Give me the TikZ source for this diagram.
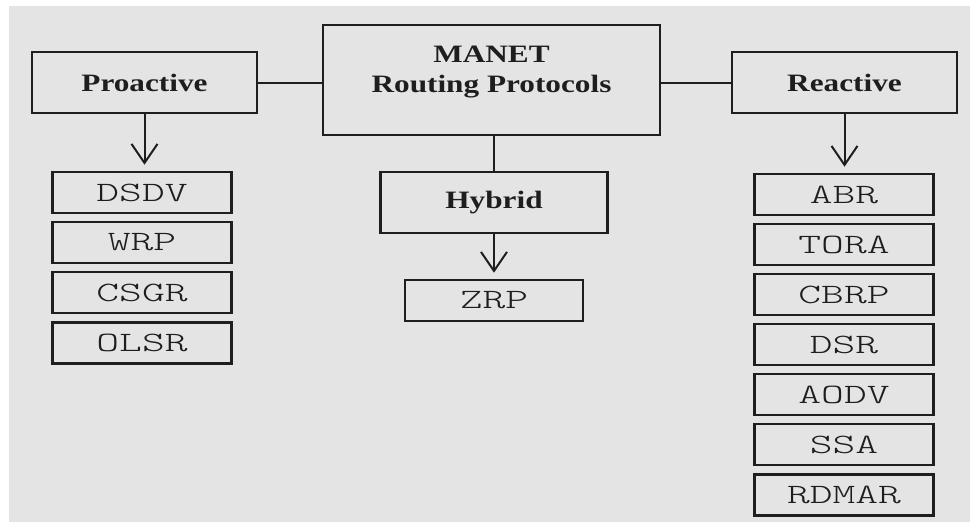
\documentclass[tikz,border=0pt]{standalone}
\usepackage{fontspec}
\setmainfont{Liberation Serif}
\newfontfamily\hdrfont[FakeStretch=1.25]{Liberation Serif Bold}
\newfontfamily\entfont[Extension=.otf, FakeStretch=1.55]{lmmonolt10-regular}
\usetikzlibrary{arrows.meta,calc}
\definecolor{bggrey}{HTML}{E4E4E4}
\definecolor{ink}{HTML}{1E1E1E}
\tikzset{
  hdrbox/.style={draw=ink, line width=2.6pt, inner sep=0pt, minimum width=225pt, minimum height=61pt,
    font=\hdrfont\fontsize{25}{30}\selectfont, text=ink},
  entbox/.style={draw=ink, line width=2.6pt, inner sep=0pt, minimum width=179pt, minimum height=41pt,
    font=\entfont\fontsize{28}{30}\selectfont, text=ink},
  conn/.style={draw=ink, line width=2pt},
  arr/.style={conn, -{Straight Barb[length=19pt,width=26pt,line width=2pt]}, shorten >=6pt},
}
\begin{document}
\begin{tikzpicture}[x=1pt,y=-1pt]
\useasboundingbox (0,0) rectangle (970,522);
\fill[white] (0,0) rectangle (970,522);
\fill[bggrey] (9,6) rectangle (970,522);

\node[draw=ink, line width=2.6pt, inner sep=0pt, minimum width=337pt, minimum height=110pt] (manet) at (491.5,80) {};
\node[font=\hdrfont\fontsize{25}{30}\selectfont, text=ink, align=center] (manettext) at (491.5,72) {MANET\\Routing Protocols};

\node[hdrbox] (pro) at (144.5,82.5) {Proactive};
\node[hdrbox] (rea) at (844.5,82.5) {Reactive};
\node[hdrbox, minimum width=227pt] (hyb) at (494,202.5) {Hybrid};

\node[entbox] (dsdv) at (142,192.5) {DSDV};
\node[entbox] (wrp) at (142,242.5) {WRP};
\node[entbox] (csgr) at (142,292.5) {CSGR};
\node[entbox] (olsr) at (142,343) {OLSR};

\node[entbox, minimum width=178pt] (zrp) at (494,300.5) {ZRP};

\node[entbox] (abr) at (844,194.5) {ABR};
\node[entbox] (tora) at (844,244.5) {TORA};
\node[entbox] (cbrp) at (844,294.5) {CBRP};
\node[entbox] (dsr) at (844,344.5) {DSR};
\node[entbox] (aodv) at (844,394.5) {AODV};
\node[entbox] (ssa) at (844,444.5) {SSA};
\node[entbox] (rdmar) at (844,495) {RDMAR};

\draw[conn] (pro.east) -- (pro.east -| manet.west);
\draw[conn] (rea.west) -- (rea.west -| manet.east);
\draw[conn] (hyb.north |- manet.south) -- (hyb.north);
\draw[arr] (pro.south) -- (pro.south |- dsdv.north);
\draw[arr] (rea.south) -- (rea.south |- abr.north);
\draw[arr] (hyb.south) -- (zrp.north);
\end{tikzpicture}
\end{document}
